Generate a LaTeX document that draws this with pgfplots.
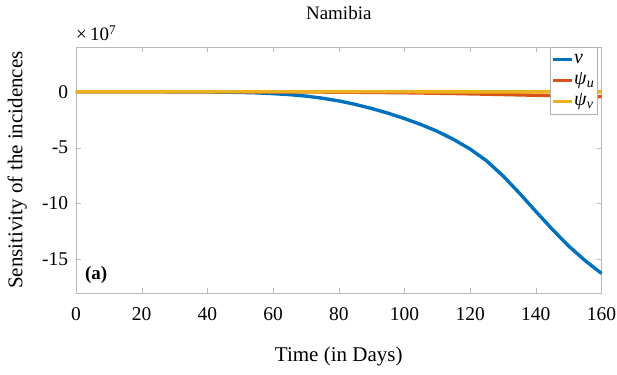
\documentclass[border=0pt]{standalone}
\usepackage{pgfplots}
\pgfplotsset{compat=1.18}
\usepackage{fontspec}
\setmainfont{Liberation Serif}
\definecolor{mblue}{rgb}{0,0.447,0.741}
\definecolor{morange}{rgb}{0.85,0.325,0.098}
\definecolor{myellow}{rgb}{0.929,0.694,0.125}
\begin{document}
\begin{tikzpicture}
\begin{axis}[
  scale only axis,
  width=525.5pt, height=246pt,
  xmin=0, xmax=160, ymin=-18, ymax=4,
  xtick={0,20,...,160},
  ytick={-15,-10,-5,0},
  tick align=inside,
  major tick length=5pt,
  axis line style={gray!55},
  tick style={gray!55},
  tick label style={font=\fontsize{19.5}{21}\selectfont, black, inner sep=0pt},
  xticklabel style={anchor=base, yshift=-27.7pt},
  yticklabel style={anchor=east, xshift=-7.7pt},
  /pgf/number format/assume math mode=true,
  title={Namibia},
  title style={font=\fontsize{19}{21}\selectfont, at={([yshift=21.5pt]axis description cs:0.5,1)}, anchor=base, inner sep=0pt},
  xlabel={Time (in Days)},
  ylabel={Sensitivity of the incidences},
  label style={font=\fontsize{21}{23}\selectfont, inner sep=0pt},
  xlabel style={at={([yshift=-68.7pt]axis description cs:0.5,0)}, anchor=base},
  ylabel style={at={([xshift=-53.5pt]axis description cs:0,0.5)}, anchor=base, rotate=0},
  legend style={at={([xshift=-4.5pt]rel axis cs:1,1)}, anchor=north east, draw=gray!60,
    font=\fontsize{20}{22}\selectfont, inner xsep=1.5pt, inner ysep=2pt, row sep=0pt,
    nodes={inner sep=1pt, text height=13pt, text depth=6pt}},
  legend cell align=left,
  legend image code/.code={\draw[#1, line width=2.5pt] (0pt,0pt) -- (19pt,0pt);},
  clip=false,
]
\addplot[mblue, line width=3.4pt, line join=round] coordinates {
(0,0) (10,-0.001) (20,-0.003) (30,-0.008) (40,-0.02) (50,-0.06) (55,-0.1) (60,-0.17) (65,-0.26) (70,-0.39) (75,-0.58) (80,-0.82) (85,-1.13) (90,-1.5) (95,-1.92) (100,-2.4) (105,-2.93) (110,-3.54) (115,-4.27) (120,-5.13) (125,-6.18) (130,-7.52) (135,-9.07) (140,-10.7) (145,-12.3) (150,-13.8) (155,-15.1) (160,-16.25)
};
\addlegendentry{\textit{v}}
\addplot[morange, line width=3.4pt] coordinates {
(0,0) (20,0) (40,-0.003) (60,-0.01) (80,-0.035) (100,-0.09) (115,-0.16) (130,-0.25) (145,-0.35) (160,-0.45)
};
\addlegendentry{\textit{ψ}\textsubscript{\textit{u}}}
\addplot[myellow, line width=3.4pt] coordinates {
(0,0) (40,0) (80,-0.003) (100,-0.006) (120,-0.01) (140,-0.015) (160,-0.02)
};
\addlegendentry{\textit{ψ}\textsubscript{\textit{v}}}
\coordinate (sw) at (rel axis cs:0,0);
\coordinate (ne) at (rel axis cs:1,1);
\node[anchor=base west, font=\fontsize{19}{21}\selectfont, inner sep=0pt] at ([yshift=6pt]rel axis cs:0,1) {×\,10\textsuperscript{7}};
\node[anchor=base west, font=\bfseries\fontsize{19}{21}\selectfont, inner sep=0pt] at (axis cs:2.7,-16.77) {(a)};
\end{axis}
\pgfresetboundingbox
\path[use as bounding box] ([xshift=-76pt,yshift=-81pt]sw) rectangle ([xshift=15.5pt,yshift=47pt]ne);
\end{tikzpicture}
\end{document}
